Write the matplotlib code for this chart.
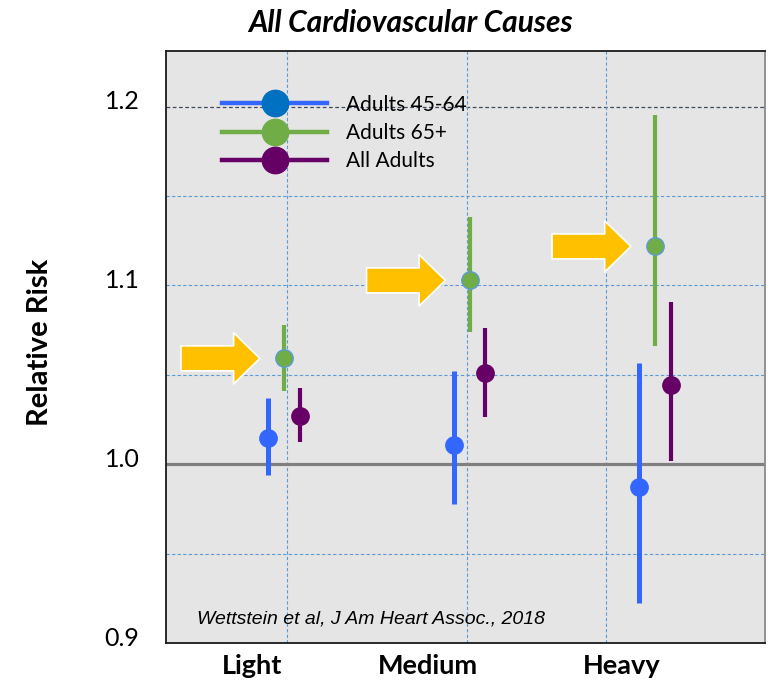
import matplotlib
matplotlib.use("Agg")
import matplotlib.pyplot as plt
from matplotlib.lines import Line2D
import matplotlib.transforms as mtransforms

# ---- data ----
categories = ["Light", "Medium", "Heavy"]
series_names = ["Adults 45-64", "Adults 65+", "All Adults"]
rr_45_64 = [1.0145, 1.0106, 0.9872]
lo_45_64 = [0.9939, 0.9777, 0.9223]
hi_45_64 = [1.0369, 1.0520, 1.0564]
rr_65 = [1.0592, 1.1028, 1.1218]
lo_65 = [1.0408, 1.0737, 1.0659]
hi_65 = [1.0777, 1.1385, 1.1955]
rr_all = [1.0268, 1.0508, 1.0441]
lo_all = [1.0123, 1.0263, 1.0017]
hi_all = [1.0425, 1.0760, 1.0905]
yticks = [0.9, 1.0, 1.1, 1.2]
ytick_labels = ["0.9", "1.0", "1.1", "1.2"]
citation = "Wettstein et al, J Am Heart Assoc., 2018"
title = "All Cardiovascular Causes"
ylabel = "Relative Risk"

# ---- styling ----
c_blue = "#3366ff"
c_blue_leg = "#0070c0"
c_green = "#70ad47"
c_purple = "#660066"
c_arrow = "#ffc000"
grid_c = "#5b9bd5"

fig = plt.figure(figsize=(7.72, 6.85), dpi=100)
fig.patch.set_facecolor("white")
ax = fig.add_axes([0.215, 0.0613, 0.776, 0.864])
ax.set_facecolor("#e5e5e5")

base = [1, 2, 3]
off = 0.086
ax.set_xlim(0.364, 3.593)
ax.set_ylim(0.9, 1.231)

# grid
for gy in [0.95, 1.05, 1.1, 1.15]:
    ax.axhline(gy, color=grid_c, lw=0.8, ls=(0, (3, 2)), zorder=1)
ax.axhline(1.2, color="#404a5a", lw=0.9, ls=(0, (3, 2)), zorder=1)
for gx in [1.016, 1.987, 2.736]:
    ax.axvline(gx, color=grid_c, lw=0.8, ls=(0, (3, 2)), zorder=1)
ax.axhline(1.0, color="#7f7f7f", lw=2.3, zorder=2)

def draw(xs, rr, lo, hi, color, lw, mec, z):
    for x, r, l, h in zip(xs, rr, lo, hi):
        ax.plot([x, x], [l, h], color=color, lw=lw, solid_capstyle="butt", zorder=z)
        ax.plot([x], [r], marker="o", ms=12.5, color=color, mec=mec, mew=1.0, zorder=z + 0.5)

draw([b - off for b in base], rr_45_64, lo_45_64, hi_45_64, c_blue, 3.6, c_blue, 3)
draw(base, rr_65, lo_65, hi_65, c_green, 3.0, grid_c, 3)
draw([b + off for b in base], rr_all, lo_all, hi_all, c_purple, 3.0, c_purple, 3)

# arrows pointing at the 65+ estimates
for b, r in zip(base, rr_65):
    ax.annotate("", xy=(b - 0.13, r), xytext=(b - 0.555, r),
                arrowprops=dict(arrowstyle="simple,head_length=1.05,head_width=2.05,tail_width=1.0",
                                fc=c_arrow, ec="white", lw=1.2, mutation_scale=18,
                                shrinkA=0, shrinkB=0), zorder=4)

# axes styling
for s in ax.spines.values():
    s.set_color("#1a1a1a")
    s.set_linewidth(1.3)
ax.spines["right"].set_color("#8a8a8a")

ax.set_yticks(yticks)
ax.set_yticklabels(ytick_labels, fontfamily="Lato", fontsize=18)
ax.tick_params(axis="y", length=0, pad=19)
off_tr = mtransforms.ScaledTranslation(0, 7 / 100, fig.dpi_scale_trans)
for lab in ax.get_yticklabels():
    lab.set_transform(lab.get_transform() + off_tr)

ax.set_xticks([0.827, 1.776, 2.822])
ax.set_xticklabels(categories, fontfamily="Lato", fontweight="bold", fontsize=19.5)
ax.tick_params(axis="x", length=0, pad=8)

fig.text(0.052, 0.500, ylabel, rotation=90, ha="center", va="center",
         fontfamily="Lato", fontweight="bold", fontsize=21)
fig.text(0.532, 0.967, title, ha="center", va="center",
         fontfamily="Lato", fontweight="bold", fontstyle="italic", fontsize=21.5)

ax.text(0.052, 0.04, citation, transform=ax.transAxes, ha="left", va="center",
        fontfamily="Liberation Sans", fontstyle="italic", fontsize=14)

handles = [
    Line2D([], [], color=c_blue, lw=3.2, marker="o", ms=19, mfc=c_blue_leg, mec=c_blue_leg),
    Line2D([], [], color=c_green, lw=3.2, marker="o", ms=19, mfc=c_green, mec=c_green),
    Line2D([], [], color=c_purple, lw=3.2, marker="o", ms=19, mfc=c_purple, mec=c_purple),
]
ax.legend(handles, series_names, loc="upper left", bbox_to_anchor=(0.063, 0.958),
          frameon=False, handlelength=5.0, handletextpad=0.95, labelspacing=0.4,
          prop=dict(family="Lato", size=15))

fig.savefig("out.png", dpi=100, facecolor=fig.get_facecolor())
